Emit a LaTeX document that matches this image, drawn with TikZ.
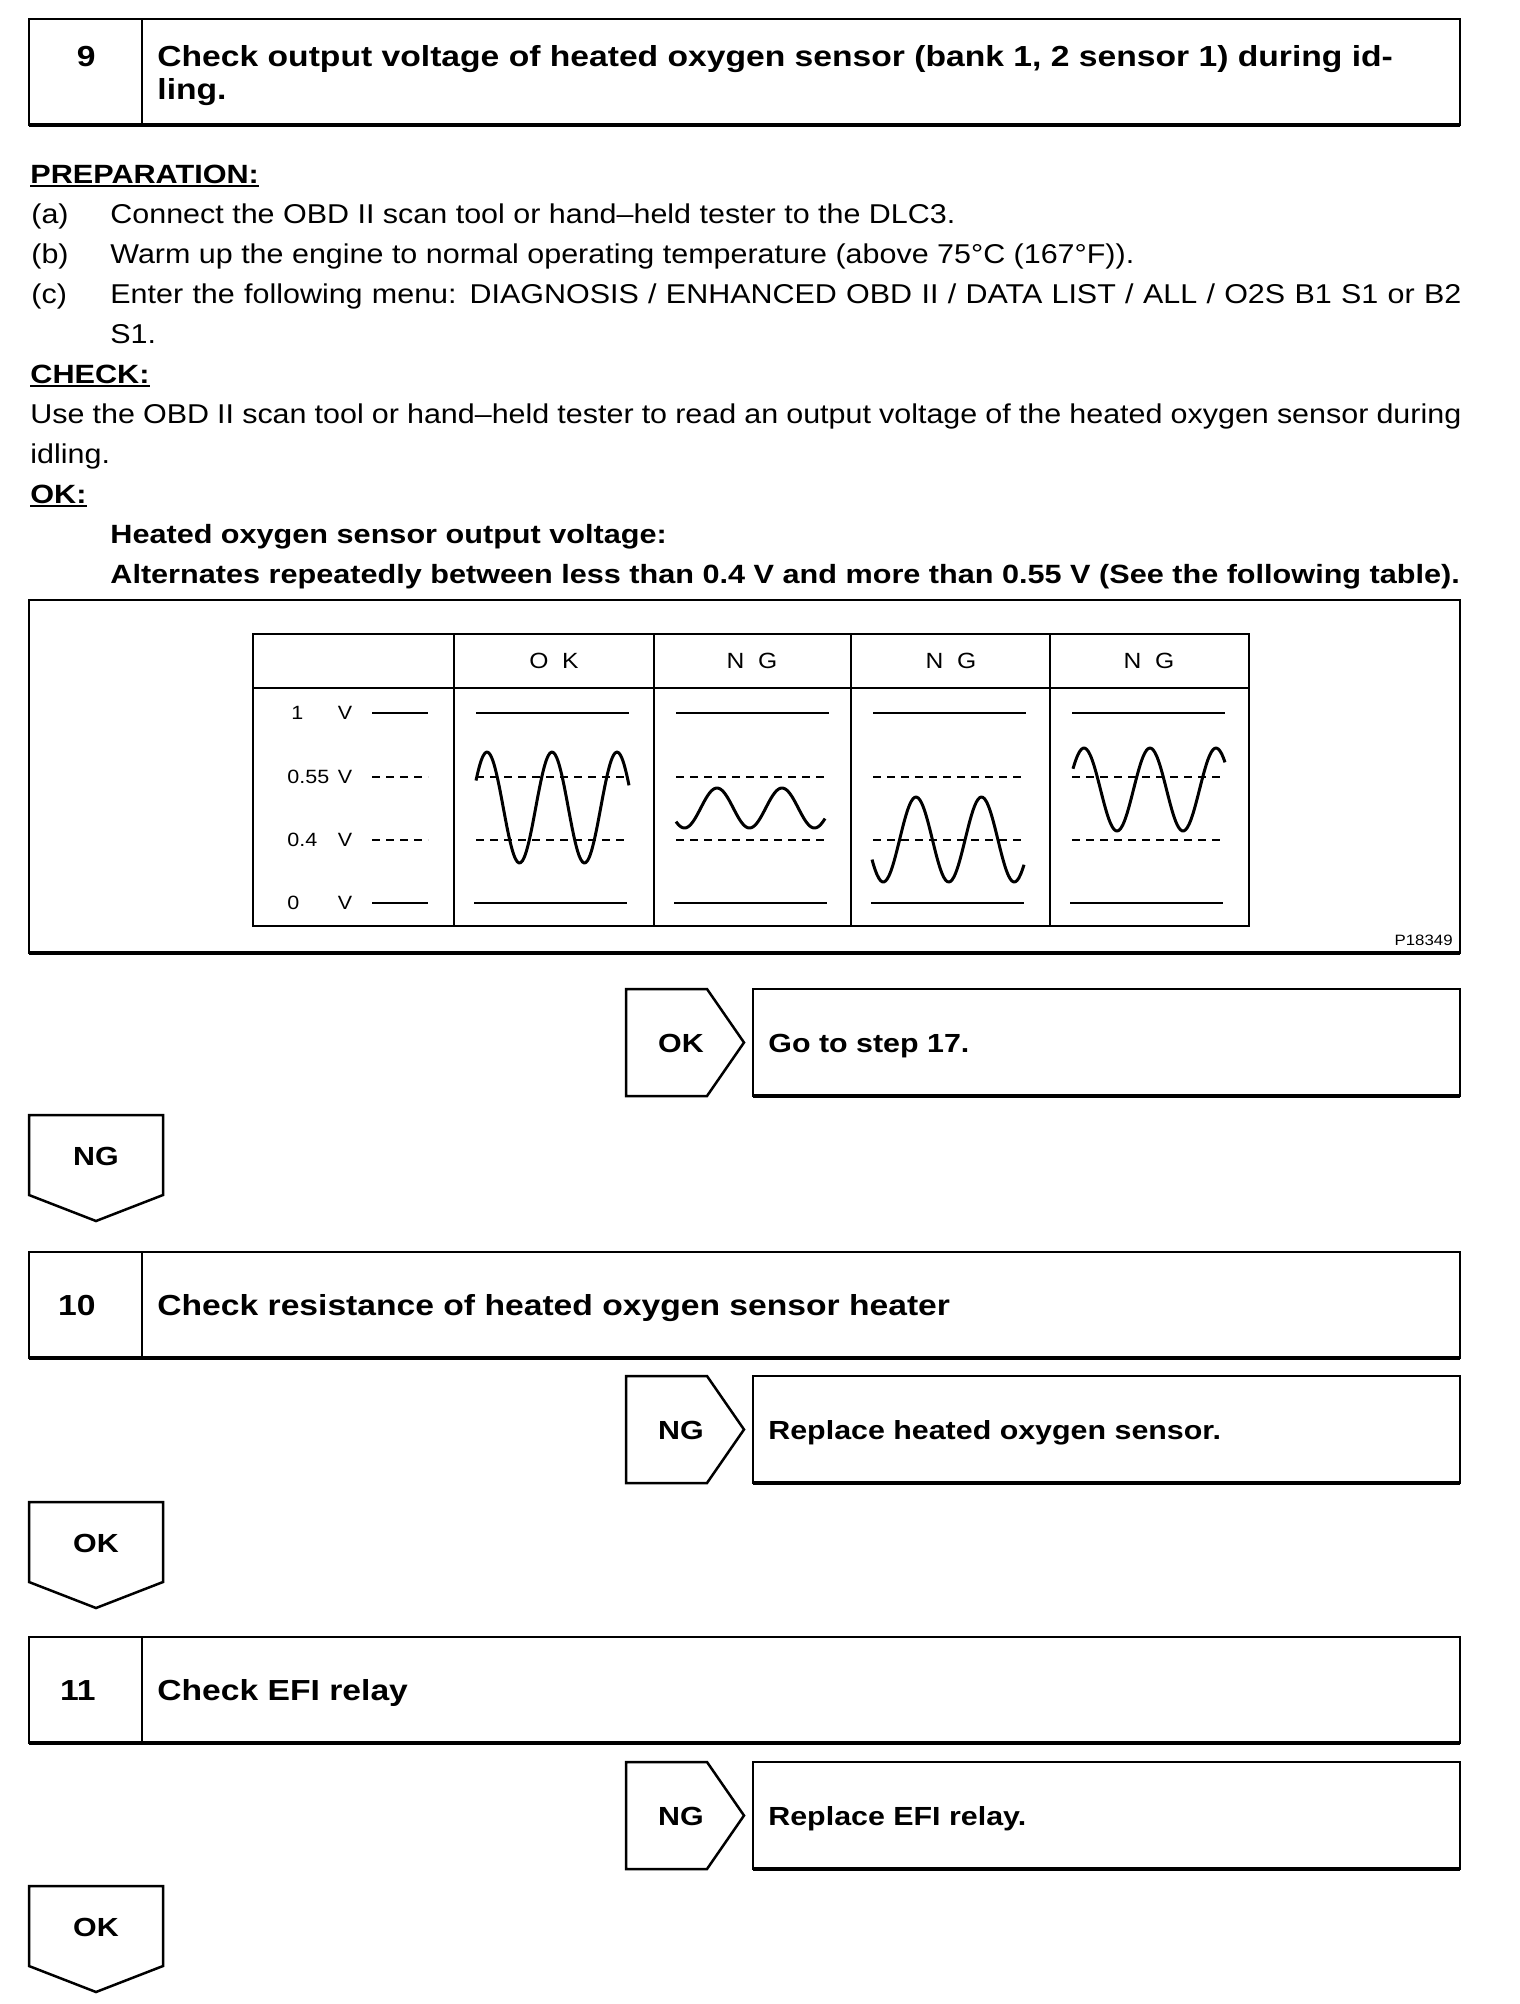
\documentclass[tikz,border=0pt]{standalone}
\usepackage{fontspec}
\setmainfont{Liberation Sans}[FakeStretch=1.12,BoldFeatures={FakeStretch=1.16}]
\tikzset{
  dgline/.style={line width=1.25pt},
  dgshade/.style={line width=1.9pt},
  dgtable/.style={line width=1.3pt},
  dglevel/.style={line width=1.1pt},
  dgref/.style={line width=1pt,dash pattern=on 4pt off 3pt},
  dgwave/.style={line width=1.5pt,line join=round},
  dgtitle/.style={font=\fontsize{14.5}{18}\selectfont\bfseries,inner sep=0pt,anchor=base west},
  dgnum/.style={font=\fontsize{14.5}{18}\selectfont\bfseries,inner sep=0pt,anchor=base east},
  dgbody/.style={font=\fontsize{13.6}{18}\selectfont,inner sep=0pt,anchor=base west},
  dgbold/.style={font=\fontsize{13.2}{18}\selectfont\bfseries,inner sep=0pt,anchor=base west},
  dgtag/.style={font=\fontsize{13.1}{16}\selectfont\bfseries,inner sep=0pt,anchor=base},
  dgmsg/.style={font=\fontsize{13.1}{16}\selectfont\bfseries,inner sep=0pt,anchor=base west},
  dgtick/.style={font=\fontsize{9.6}{11}\selectfont,inner sep=0pt},
  dghead/.style={font=\fontsize{11}{13}\selectfont,inner sep=0pt},
  dgcode/.style={font=\fontsize{7.5}{9}\selectfont,inner sep=0pt,anchor=base east},
  dgunder/.style={line width=1pt}
}
\begin{document}
\begin{tikzpicture}[x=0.5pt,y=-0.5pt]
  \useasboundingbox (0,0) rectangle (1520,2004);

  % step 9
  \draw[dgline] (29,19) rectangle (1460,125);
  \draw[dgshade] (29,125) -- (1460,125);
  \draw[dgline] (142,19) -- (142,125);
  \node[dgnum] (n9) at (96,66) {9};
  \node[dgtitle] (t9a) at (157,66) {Check output voltage of heated oxygen sensor (bank 1, 2 sensor 1) during id-};
  \node[dgtitle] (t9b) at (157,99) {ling.};

  % preparation / check / ok text
  \node[dgbold] (prep) at (30,183) {PREPARATION:};
  \draw[dgunder] ([yshift=-1.3pt]prep.base west) -- ([yshift=-1.3pt]prep.base east);
  \node[dgbody] (pa) at (31,223) {(a)};
  \node[dgbody] (pat) at (110,223) {Connect the OBD II scan tool or hand–held tester to the DLC3.};
  \node[dgbody] (pb) at (31,263) {(b)};
  \node[dgbody] (pbt) at (110,263) {Warm up the engine to normal operating temperature (above 75°C (167°F)).};
  \node[dgbody] (pc) at (31,303) {(c)};
  \node[dgbody] (pct) at (110,303) {\makebox[675.5pt][s]{Enter the following menu: DIAGNOSIS / ENHANCED OBD II / DATA LIST / ALL / O2S B1 S1 or B2}};
  \node[dgbody] (pcu) at (110,343) {S1.};
  \node[dgbold] (chk) at (30,383) {CHECK:};
  \draw[dgunder] ([yshift=-1.3pt]chk.base west) -- ([yshift=-1.3pt]chk.base east);
  \node[dgbody] (chkt) at (30,423) {\makebox[715.5pt][s]{Use the OBD II scan tool or hand–held tester to read an output voltage of the heated oxygen sensor during}};
  \node[dgbody] (chku) at (30,463) {idling.};
  \node[dgbold] (okh) at (30,503) {OK:};
  \draw[dgunder] ([yshift=-1.3pt]okh.base west) -- ([yshift=-1.3pt]okh.base east);
  \node[dgbold] (oka) at (110,543) {Heated oxygen sensor output voltage:};
  \node[dgbold] (okb) at (110,583) {Alternates repeatedly between less than 0.4 V and more than 0.55 V (See the following table).};

  % figure frame and table
  \draw[dgline] (29,600) rectangle (1460,953);
  \draw[dgshade] (29,953) -- (1460,953);
  \draw[dgtable] (253,634) rectangle (1249,926);
  \draw[dgtable] (253,688) -- (1249,688);
  \foreach \cx in {454,654,851,1050}
    \draw[dgtable] (\cx,634) -- (\cx,926);
  \node[dghead] (hd1) at (554,661) {O\ \ K};
  \node[dghead] (hd2) at (752,661) {N\ \ G};
  \node[dghead] (hd3) at (951,661) {N\ \ G};
  \node[dghead] (hd4) at (1149,661) {N\ \ G};

  % voltage scale
  \node[dgtick,anchor=west] (v1n) at (291,713) {1};
  \node[dgtick] (v1v) at (345,713) {V};
  \node[dgtick,anchor=west] (v55n) at (287,777) {0.55};
  \node[dgtick] (v55v) at (345,777) {V};
  \node[dgtick,anchor=west] (v4n) at (287,840) {0.4};
  \node[dgtick] (v4v) at (345,840) {V};
  \node[dgtick,anchor=west] (v0n) at (287,903) {0};
  \node[dgtick] (v0v) at (345,903) {V};
  \draw[dglevel] (372,713) -- (428,713);
  \draw[dgref] (372,777) -- (428,777);
  \draw[dgref] (372,840) -- (428,840);
  \draw[dglevel] (372,903) -- (428,903);
  \foreach \cx in {454,654,851,1050} {
    \draw[dglevel] (\cx+22,713) -- (\cx+175,713);
    \draw[dgref] (\cx+22,777) -- (\cx+174,777);
    \draw[dgref] (\cx+22,840) -- (\cx+174,840);
    \draw[dglevel] (\cx+20,903) -- (\cx+173,903);
  }

  % sensor signals
  \draw[dgwave] plot[domain=476:629,samples=90,smooth] (\x,{807.5-55.5*cos((\x-487)/65*360)});
  \draw[dgwave] plot[domain=676:825,samples=90,smooth] (\x,{808-20*cos((\x-717)/65*360)});
  \draw[dgwave] plot[domain=872:1024,samples=90,smooth] (\x,{839.5-42.5*cos((\x-916)/65.5*360)});
  \draw[dgwave] plot[domain=1073:1225,samples=90,smooth] (\x,{789.5-41.5*cos((\x-1084)/66*360)});
  \node[dgcode] (fig) at (1453,945) {P18349};

  % steps 10 and 11
  \draw[dgline] (29,1252) rectangle (1460,1358);
  \draw[dgshade] (29,1358) -- (1460,1358);
  \draw[dgline] (142,1252) -- (142,1358);
  \node[dgnum] (n10) at (96,1315) {10};
  \node[dgtitle] (t10) at (157,1315) {Check resistance of heated oxygen sensor heater};
  \draw[dgline] (29,1637) rectangle (1460,1743);
  \draw[dgshade] (29,1743) -- (1460,1743);
  \draw[dgline] (142,1637) -- (142,1743);
  \node[dgnum] (n11) at (96,1700) {11};
  \node[dgtitle] (t11) at (157,1700) {Check EFI relay};

  % branch arrows to the right
  \foreach \ty/\tag/\msg [count=\k] in {989/OK/Go to step 17., 1376/NG/Replace heated oxygen sensor., 1762/NG/Replace EFI relay.} {
    \draw[dgline] (626,\ty) -- (707,\ty) -- (744,\ty+53.5) -- (707,\ty+107) -- (626,\ty+107) -- cycle;
    \node[dgtag] (rtag\k) at (681,\ty+63) {\tag};
    \draw[dgline] (753,\ty) rectangle (1460,\ty+107);
    \draw[dgshade] (753,\ty+107) -- (1460,\ty+107);
    \node[dgmsg] (rmsg\k) at (768,\ty+63) {\msg};
  }

  % branch arrows downwards
  \foreach \dy/\tag [count=\k] in {1115/NG, 1502/OK, 1886/OK} {
    \draw[dgline] (29,\dy) -- (163,\dy) -- (163,\dy+80) -- (96,\dy+106) -- (29,\dy+80) -- cycle;
    \node[dgtag] (dtag\k) at (96,\dy+50) {\tag};
  }
\end{tikzpicture}
\end{document}
